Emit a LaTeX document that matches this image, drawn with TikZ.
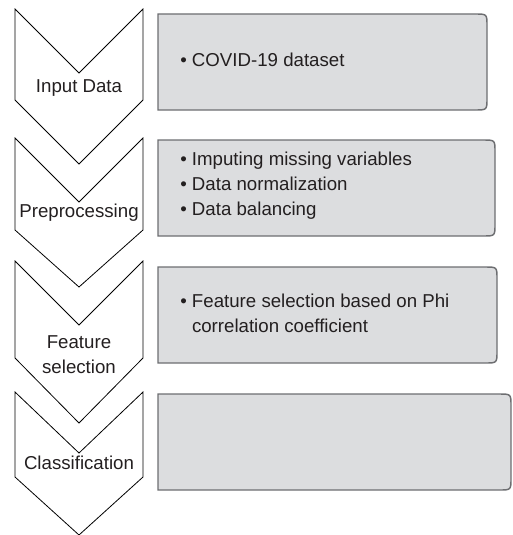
\documentclass[tikz,border=0pt]{standalone}
\usepackage{fontspec}
\setmainfont{Liberation Sans}
\usepackage{tikz}
\usetikzlibrary{arrows}
\definecolor{boxgray}{RGB}{220,221,223}
\definecolor{boxline}{RGB}{109,110,113}
\definecolor{ink}{RGB}{35,31,32}
\newcommand{\bul}{\makebox[8.8pt][l]{\textbullet}}
\begin{document}
\begin{tikzpicture}[x=0.75pt,y=-0.75pt,
      chev/.style={draw=black,line width=0.6pt,line join=miter},
      boxbg/.style={draw=boxline,fill=boxgray,line width=1.1pt},
      lbl/.style={anchor=base,inner sep=0pt,align=center,text=ink,
        font=\fontsize{14}{18.4}\selectfont},
      itm/.style={anchor=base west,inner sep=0pt,align=left,text=ink,
        font=\fontsize{14}{18.4}\selectfont}]
      \useasboundingbox (0,0) rectangle (512,535);
      \foreach \y/\b/\r in {14/110/487,140/236/495,267/363/497,394/490/511} {
        \path[boxbg] (158,\y) -- (\r-12,\y) .. controls (\r,\y) .. (\r,\y+12)
          -- (\r,\b-12) .. controls (\r,\b) .. (\r-12,\b) -- (158,\b) -- cycle;
      }
      \foreach \t/\n/\s/\p in {9/64/100/164,138/64/230/287,261/64/358/423,392/61/477/535} {
        \draw[chev] (15,\t) -- (79,\t+\n) -- (143,\t) -- (143,\s) -- (79,\p) -- (15,\s) -- cycle;
      }
      \node[lbl] (input) at (79,93) {Input Data};
      \node[lbl] (prep) at (79,217) {Preprocessing};
      \node[lbl] (feat) at (79,373) {Feature\\selection};
      \node[lbl] (class) at (79,469) {Classification};
      \node[itm] (dataset) at (180,67) {\bul COVID-19 dataset};
      \node[itm] (steps) at (180,215) {\bul Imputing missing variables\\
        \bul Data normalization\\\bul Data balancing};
      \node[itm] (phi) at (180,332) {\bul Feature selection based on Phi\\
        \hspace*{8.8pt}correlation coefficient};
    \end{tikzpicture}
\end{document}
